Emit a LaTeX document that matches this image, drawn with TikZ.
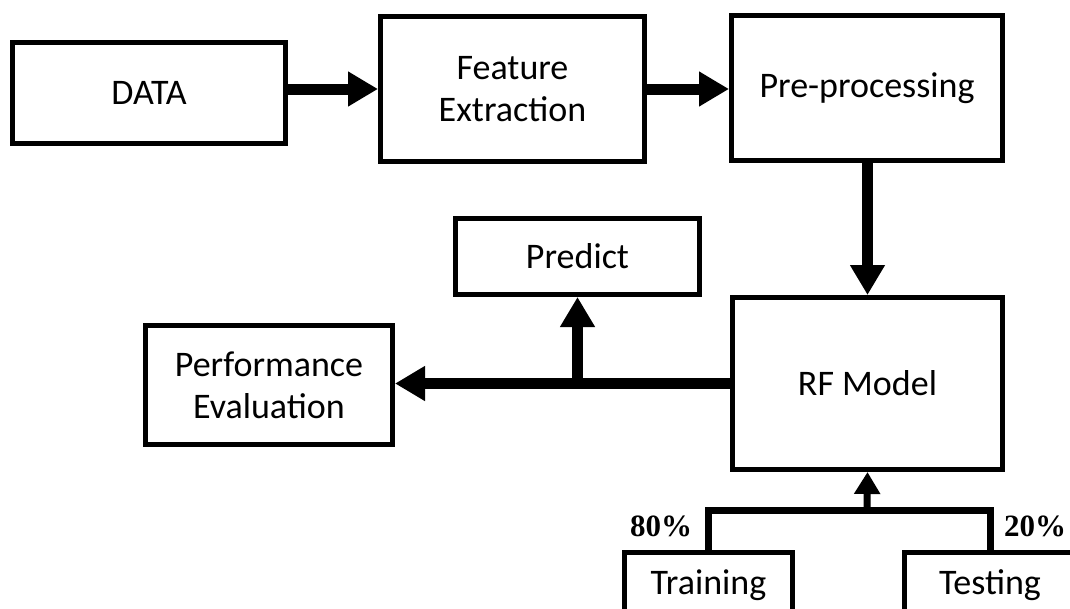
\documentclass[tikz,border=0pt]{standalone}
\usepackage{fontspec}
\setmainfont{Carlito}
\newfontfamily\pctfont{Liberation Serif}
\usetikzlibrary{arrows.meta}
\tikzset{
  box/.style={draw, line width=5pt, inner sep=0pt, align=center,
    font=\fontsize{36}{42}\selectfont},
  flow/.style={line width=11pt, -{Triangle[length=30pt,width=33pt]}},
  thinflow/.style={line width=7pt, -{Triangle[length=22pt,width=25pt]}},
  branch/.style={line width=7pt, line join=miter},
  pct/.style={font=\pctfont\bfseries\fontsize{31}{33}\selectfont}
}
\begin{document}
\begin{tikzpicture}[x=1pt,y=-1pt]
\useasboundingbox (0,0) rectangle (1070,608);
\clip (0,0) rectangle (1070,608);
\node[box, minimum width=273pt, minimum height=101pt] (data) at (149,93) {DATA};
\node[box, minimum width=264pt, minimum height=145pt] (feat) at (512.5,89) {Feature\\Extraction};
\node[box, minimum width=271pt, minimum height=145pt] (pre) at (867,88) {Pre-processing};
\node[box, minimum width=270pt, minimum height=172pt] (rf) at (867.5,383.5) {RF Model};
\node[box, minimum width=244pt, minimum height=76pt] (pred) at (577.5,256.5) {Predict};
\node[box, minimum width=247pt, minimum height=119pt] (perf) at (269,385) {Performance\\Evaluation};
\node[box, minimum width=168pt, minimum height=65pt] (train) at (708.5,585) {Training};
\node[box, minimum width=171pt, minimum height=65pt] (test) at (990,585) {Testing};
\node[pct] (p80) at (661,526) {80\%};
\node[pct] (p20) at (1035,526) {20\%};
\coordinate (split) at (867,510);
\coordinate (junc) at (577.5,383.5);
\draw[flow] (data.east |- feat.west) -- (feat.west);
\draw[flow] (feat.east) -- (feat.east -| pre.west);
\draw[flow] (pre.south -| rf.north) -- (rf.north);
\draw[flow] (rf.west) -- (rf.west -| perf.east);
\draw[flow] (junc) -- (pred.south);
\draw[branch] (train.north) |- (split) -| (test.north);
\draw[thinflow] (split) -- (rf.south);
\end{tikzpicture}
\end{document}
